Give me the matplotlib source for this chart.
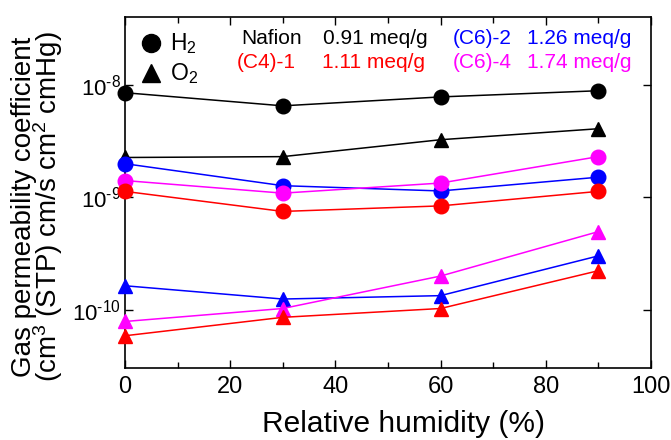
import matplotlib
matplotlib.use("Agg")
import matplotlib.pyplot as plt
import numpy as np
from matplotlib.ticker import LogLocator, NullLocator, MultipleLocator, FuncFormatter

plt.rcParams['font.family'] = ['Liberation Sans', 'DejaVu Sans']
plt.rcParams['mathtext.fontset'] = 'custom'
plt.rcParams['mathtext.rm'] = 'Liberation Sans'
plt.rcParams['mathtext.it'] = 'Liberation Sans'

# relative humidity (%)
rh = [0, 30, 60, 90]

# permeability coefficients, cm3(STP) cm / (s cm2 cmHg)
nafion_h2 = [8.5e-9, 6.5e-9, 7.8e-9, 8.85e-9]
nafion_o2 = [2.26e-9, 2.3e-9, 3.25e-9, 4.07e-9]
c6_2_h2 = [1.99e-9, 1.27e-9, 1.14e-9, 1.51e-9]
c6_2_o2 = [1.64e-10, 1.25e-10, 1.34e-10, 3.02e-10]
c6_4_h2 = [1.41e-9, 1.09e-9, 1.34e-9, 2.3e-9]
c6_4_o2 = [7.9e-11, 1.03e-10, 2.0e-10, 4.96e-10]
c4_1_h2 = [1.13e-9, 7.5e-10, 8.4e-10, 1.13e-9]
c4_1_o2 = [5.9e-11, 8.6e-11, 1.03e-10, 2.23e-10]

membranes = ["Nafion", "(C4)-1", "(C6)-2", "(C6)-4"]
capacity = ["0.91 meq/g", "1.11 meq/g", "1.26 meq/g", "1.74 meq/g"]
colors = ["black", "red", "blue", "magenta"]

fig = plt.figure(figsize=(6.71, 4.40), dpi=100)
ax = fig.add_axes([0.1863, 0.1636, 0.7837, 0.7978])

series = [
    (nafion_h2, nafion_o2, "black"),
    (c6_2_h2, c6_2_o2, "blue"),
    (c6_4_h2, c6_4_o2, "magenta"),
    (c4_1_h2, c4_1_o2, "red"),
]
for h2, o2, c in series:
    ax.plot(rh, h2, '-', color=c, lw=1.1, marker='o', ms=10.5, mec=c, mfc=c, clip_on=False, zorder=3)
    ax.plot(rh, o2, '-', color=c, lw=1.1, marker='^', ms=10.5, mec=c, mfc=c, clip_on=False, zorder=3)

ax.set_yscale('log')
ax.set_xlim(0, 100)
ax.set_ylim(3.05e-11, 4.0e-8)
ax.xaxis.set_major_locator(MultipleLocator(20))
ax.xaxis.set_minor_locator(MultipleLocator(10))
ax.yaxis.set_major_locator(LogLocator(base=10, numticks=10))
ax.yaxis.set_minor_locator(NullLocator())


def decade_label(v, pos):
    # plain hyphen in the exponent, e.g. 10^-9
    e = int(round(np.log10(v)))
    return r"10$^{\text{%d}}$" % e


ax.yaxis.set_major_formatter(FuncFormatter(decade_label))

ax.tick_params(which='both', direction='in', top=True, right=True, width=1.0)
ax.tick_params(which='major', length=6)
ax.tick_params(which='minor', length=4)
ax.tick_params(axis='x', labelsize=17, pad=6)
ax.tick_params(axis='y', labelsize=16, pad=3)
for s in ax.spines.values():
    s.set_linewidth(1.2)

# axis titles
fig.text(0.6006, 0.018, "Relative humidity (%)", ha='center', va='baseline', fontsize=21.5)
fig.text(0.056, 0.53, "Gas permeability coefficient\n(cm$^3$ (STP) cm/s cm$^2$ cmHg)",
         rotation=90, ha='center', va='center', fontsize=20, linespacing=0.78)

# marker legend
ax.plot([0.05], [0.925], 'o', color='black', ms=13, transform=ax.transAxes)
ax.plot([0.05], [0.84], '^', color='black', ms=13, transform=ax.transAxes)
ax.text(0.085, 0.925, "H$_2$", transform=ax.transAxes, fontsize=16.5, va='center')
ax.text(0.085, 0.84, "O$_2$", transform=ax.transAxes, fontsize=16.5, va='center')

# membrane labels
name_x = [0.222, 0.212, 0.624, 0.624]
cap_x = [0.376, 0.374, 0.765, 0.765]
row_y = [0.94, 0.87, 0.94, 0.87]
for name, cap, c, nx, cx, yy in zip(membranes, capacity, colors, name_x, cap_x, row_y):
    ax.text(nx, yy, name, color=c, transform=ax.transAxes, fontsize=15, va='center')
    ax.text(cx, yy, cap, color=c, transform=ax.transAxes, fontsize=15, va='center')

fig.savefig("out.png", dpi=100)
